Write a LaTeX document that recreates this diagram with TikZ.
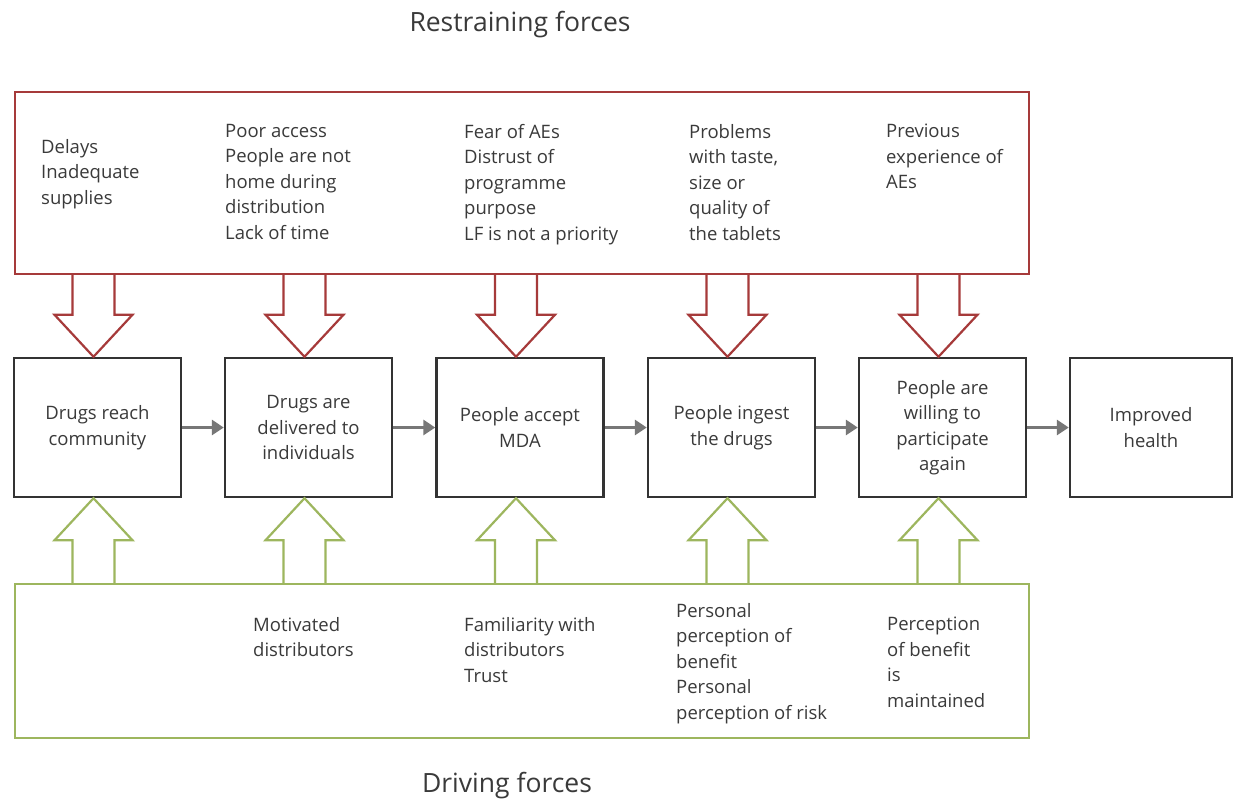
\documentclass[tikz,border=0pt]{standalone}
\usepackage{fontspec}
\setmainfont{Open Sans}
\usetikzlibrary{arrows.meta,calc}
\definecolor{redf}{HTML}{A63A3A}
\definecolor{greenf}{HTML}{9DB65E}
\definecolor{boxc}{HTML}{333333}
\definecolor{txt}{HTML}{3A3A3A}
\definecolor{conn}{HTML}{777777}
\begin{document}
\begin{tikzpicture}[x=1pt,y=-1pt,
  stage/.style={draw=boxc, line width=2.5pt, minimum width=167pt, minimum height=139pt,
    align=center, font=\fontsize{18.5}{25.5}\selectfont, text=txt, inner sep=0pt},
  lbl/.style={anchor=north west, align=left, inner sep=0pt,
    font=\fontsize{18.5}{25.5}\selectfont, text=txt},
  title/.style={inner sep=0pt, font=\fontsize{26.5}{30}\selectfont, text=txt},
  flow/.style={conn, line width=3.5pt, -{Triangle[length=12pt,width=15pt]}},
  forcebox/.style={line width=2.2pt, anchor=north west, inner sep=0pt},
  redarrow/.style={draw=redf, line width=2.2pt, line join=miter},
  greenarrow/.style={draw=greenf, line width=2.2pt, line join=miter}
]
\useasboundingbox[fill=white] (0,0) rectangle (1235,801);

% titles
\node[title] (tr) at (520,25) {Restraining forces};
\node[title] (td) at (507,786) {Driving forces};

% force boxes
\node[forcebox, draw=redf, minimum width=1014pt, minimum height=182pt] (rbox) at (14,91) {};
\node[forcebox, draw=greenf, minimum width=1014pt, minimum height=154pt] (gbox) at (14,583) {};

% stages
\node[stage] (b1) at (97.5,427.5) {Drugs reach\\community};
\node[stage] (b2) at (308.5,427.5) {Drugs are\\delivered to\\individuals};
\node[stage] (b3) at (520,427.5) {People accept\\MDA};
\node[stage] (b4) at (731.5,427.5) {People ingest\\the drugs};
\node[stage] (b5) at (942.5,427.5) {People are\\willing to\\participate\\again};
\node[stage, minimum width=162pt] (b6) at (1151,427.5) {Improved\\health};

% flow connectors
\draw[flow] (b1.east) -- (b2.west);
\draw[flow] (b2.east) -- (b3.west);
\draw[flow] (b3.east) -- (b4.west);
\draw[flow] (b4.east) -- (b5.west);
\draw[flow] (b5.east) -- (b6.west);

% restraining and driving arrows
\foreach \b in {b1,b2,b3,b4,b5}{
  \draw[redarrow] let \p1=($(\b.north)+(-4,0)$), \p2=(rbox.south) in
    (\x1-21pt,\y2) -- (\x1-21pt,\y1+42pt) -- (\x1-39pt,\y1+42pt) -- (\x1,\y1)
    -- (\x1+39pt,\y1+42pt) -- (\x1+21pt,\y1+42pt) -- (\x1+21pt,\y2);
  \draw[greenarrow] let \p1=($(\b.south)+(-4,0)$), \p2=(gbox.north) in
    (\x1-21pt,\y2) -- (\x1-21pt,\y1-42pt) -- (\x1-39pt,\y1-42pt) -- (\x1,\y1)
    -- (\x1+39pt,\y1-42pt) -- (\x1+21pt,\y1-42pt) -- (\x1+21pt,\y2);
}

% restraining labels
\node[lbl] (r1) at (41,139) {Delays\\Inadequate\\supplies};
\node[lbl] (r2) at (225,124) {Poor access\\People are not\\home during\\distribution\\Lack of time};
\node[lbl] (r3) at (464,124) {Fear of AEs\\Distrust of\\programme\\purpose\\LF is not a priority};
\node[lbl] (r4) at (689,124) {Problems\\with taste,\\size or\\quality of\\the tablets};
\node[lbl] (r5) at (886,124) {Previous\\experience of\\AEs};

% driving labels
\node[lbl] (g2) at (253,617) {Motivated\\distributors};
\node[lbl] (g3) at (464,617) {Familiarity with\\distributors\\Trust};
\node[lbl] (g4) at (676,603) {Personal\\perception of\\benefit\\Personal\\perception of risk};
\node[lbl] (g5) at (887,617) {Perception\\of benefit\\is\\maintained};
\end{tikzpicture}
\end{document}
